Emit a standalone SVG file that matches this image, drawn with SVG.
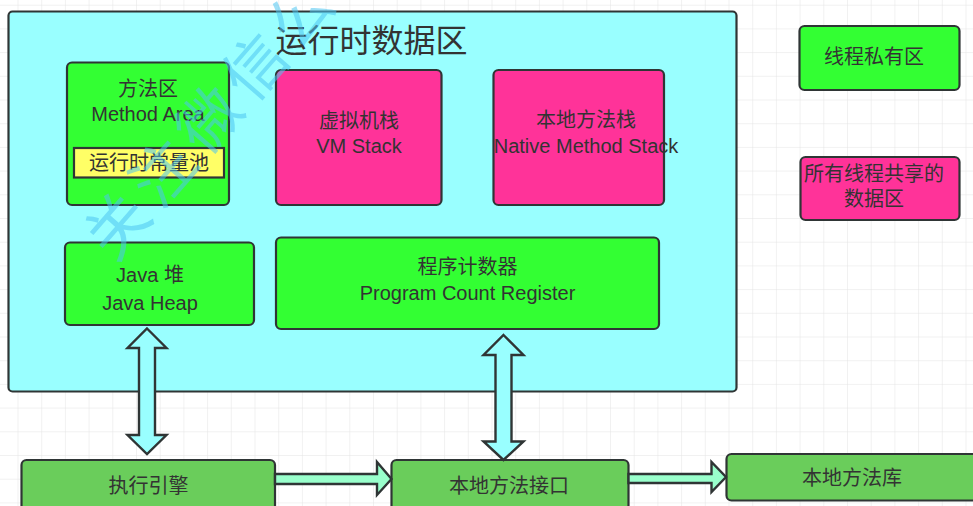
<svg xmlns="http://www.w3.org/2000/svg" width="973" height="506" viewBox="0 0 973 506">
  <defs>
    <pattern id="grid" x="17.5" y="4.7" width="23.7" height="23.7" patternUnits="userSpaceOnUse">
      <path d="M0,0 H23.7 M0,0 V23.7" fill="none" stroke="#e4e4e4" stroke-width="1"/>
    </pattern>
    <style>
      .box { stroke: #2f3535; stroke-width: 2.2; }
      .green { fill: #33ff33; }
      .pink { fill: #ff3399; }
      .cyan { fill: #99ffff; }
      .dgreen { fill: #6acd5b; }
      .yellow { fill: #ffff66; }
      .arrow { stroke: #2f3535; stroke-width: 2.4; stroke-linejoin: miter; }
      text { font-family: "Liberation Sans", "Noto Sans CJK SC", sans-serif; fill: #333333; text-anchor: middle; dominant-baseline: central; font-size: 20px; }
      .title { font-size: 32px; }
      .wm { fill: #4cc4f0; fill-opacity: 0.55; font-size: 62px; text-anchor: start; letter-spacing: 8px; }
    </style>
  </defs>
  <rect x="0" y="0" width="973" height="506" fill="#ffffff"/>
  <rect x="0" y="0" width="973" height="506" fill="url(#grid)"/>

  <g id="runtime-data-area">
    <rect class="box cyan" x="8.5" y="11.5" width="728" height="380" rx="4"/>
    <text class="title" x="371.5" y="41">运行时数据区</text>
  </g>

  <g id="method-area">
    <rect class="box green" x="67" y="62.5" width="162" height="142.5" rx="5"/>
    <text x="148" y="89">方法区</text>
    <text x="148" y="114">Method Area</text>
  </g>
  <g id="constant-pool">
    <rect class="box yellow" x="74" y="148" width="150" height="29.5"/>
    <text x="149" y="163">运行时常量池</text>
  </g>

  <g id="vm-stack">
    <rect class="box pink" x="276" y="70" width="165.5" height="135" rx="5"/>
    <text x="359" y="121">虚拟机栈</text>
    <text x="359" y="145.5">VM Stack</text>
  </g>

  <g id="native-method-stack">
    <rect class="box pink" x="493.5" y="70" width="170.5" height="135" rx="5"/>
    <text x="586" y="120">本地方法栈</text>
    <text x="586" y="145.5">Native Method Stack</text>
  </g>

  <g id="java-heap">
    <rect class="box green" x="65" y="242.5" width="189" height="82.5" rx="5"/>
    <text x="150" y="275">Java 堆</text>
    <text x="150" y="303">Java Heap</text>
  </g>

  <g id="program-counter">
    <rect class="box green" x="276" y="237.5" width="383" height="91.5" rx="5"/>
    <text x="467.5" y="266.5">程序计数器</text>
    <text x="467.5" y="293">Program Count Register</text>
  </g>

  <g id="legend-private">
    <rect class="box green" x="799.5" y="26" width="160" height="64" rx="5"/>
    <text x="874" y="56.5">线程私有区</text>
  </g>

  <g id="legend-shared">
    <rect class="box pink" x="800.5" y="157" width="159" height="63" rx="5"/>
    <text x="874" y="173.5">所有线程共享的</text>
    <text x="874" y="198.5">数据区</text>
  </g>

  <g id="execution-engine">
    <rect class="box dgreen" x="21.5" y="460" width="253.5" height="60" rx="5"/>
    <text x="148.5" y="486">执行引擎</text>
  </g>

  <g id="native-interface">
    <rect class="box dgreen" x="391.5" y="460" width="237" height="60" rx="5"/>
    <text x="509" y="486">本地方法接口</text>
  </g>

  <g id="native-library">
    <rect class="box dgreen" x="726.5" y="454" width="260" height="46.5" rx="5"/>
    <text x="852" y="477.5">本地方法库</text>
  </g>

  <g id="connectors">
    <path class="arrow cyan" d="M147,328.5 L166.5,348 L155,348 L155,435 L166.5,435 L147,454 L127.5,435 L139,435 L139,348 L127.5,348 Z"/>
    <path class="arrow cyan" d="M503.5,335 L523.5,355 L511.5,355 L511.5,441.5 L523.5,441.5 L503.5,460 L483.5,441.5 L495.5,441.5 L495.5,355 L483.5,355 Z"/>
    <path class="arrow" fill="#99ffcc" d="M275,474 L377,474 L377,462 L391.5,479 L377,495 L377,484 L275,484 Z"/>
    <path class="arrow" fill="#99ffcc" d="M628.5,474 L711.5,474 L711.5,462 L726,477 L711.5,492 L711.5,483 L628.5,483 Z"/>
  </g>

  <text class="wm" transform="translate(118,226) rotate(-49)" x="-31" y="0">关注微信公</text>
</svg>
